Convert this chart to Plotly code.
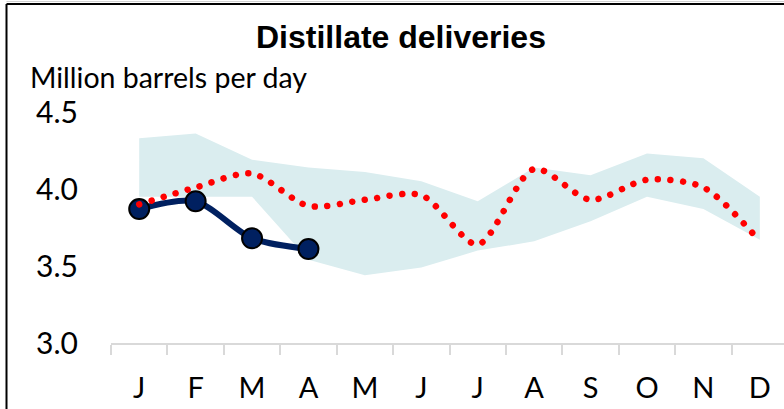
import plotly.graph_objects as go

# ---- data ----
months = ["J", "F", "M", "A", "M", "J", "J", "A", "S", "O", "N", "D"]
range_low = [3.95, 3.95, 3.95, 3.54, 3.44, 3.49, 3.60, 3.66, 3.79, 3.95, 3.87, 3.67]
range_high = [4.33, 4.36, 4.19, 4.14, 4.11, 4.05, 3.92, 4.14, 4.09, 4.23, 4.20, 3.95]
average = [3.90, 4.01, 4.10, 3.89, 3.93, 3.96, 3.64, 4.13, 3.93, 4.06, 4.01, 3.66]
current = [3.87, 3.92, 3.68, 3.61]
y_ticks = [3.0, 3.5, 4.0, 4.5]
y_ticklabels = ["3.0", "3.5", "4.0", "4.5"]

# ---- layout geometry (screen pixels; page body margin is removed) ----
W, H = 784, 409
L, T = 111, 112
PLOT_BOTTOM, PLOT_RIGHT = 343, 784
R = W - PLOT_RIGHT
B = H - PLOT_BOTTOM
PW, PH = PLOT_RIGHT - L, PLOT_BOTTOM - T


def px_x(px):
    return (px - L) / PW


def px_y(py):
    return (PLOT_BOTTOM - py) / PH


x = list(range(len(months)))
FONT = "Lato"

fig = go.Figure()
fig.add_trace(go.Scatter(x=x, y=range_low, mode="lines", line=dict(width=0),
                         hoverinfo="skip", showlegend=False))
fig.add_trace(go.Scatter(x=x, y=range_high, mode="lines", line=dict(width=0),
                         fill="tonexty", fillcolor="#DAEDEF",
                         hoverinfo="skip", showlegend=False))
fig.add_trace(go.Scatter(x=x[:len(current)], y=current, mode="lines+markers",
                         line=dict(color="#002060", width=6, shape="spline", smoothing=0.8),
                         marker=dict(size=20, color="#002060", line=dict(color="black", width=2)),
                         showlegend=False))
fig.add_trace(go.Scatter(x=x, y=average, mode="lines",
                         line=dict(color="#FF0000", width=6.5, dash="4px,8.6px",
                                   shape="spline", smoothing=0.8),
                         showlegend=False))

fig.update_layout(
    width=W, height=H,
    margin=dict(l=L, r=R, t=T, b=B, pad=0, autoexpand=False),
    paper_bgcolor="white", plot_bgcolor="white",
    showlegend=False,
    xaxis=dict(range=[-0.5, -0.5 + PW / 56.42], tickmode="array", tickvals=x, ticktext=months,
               showgrid=False, zeroline=False, showline=True, linecolor="#D9D9D9", linewidth=2,
               ticks="", ticklabelstandoff=18, automargin=False,
               minor=dict(ticks="outside", tick0=-0.5, dtick=1, ticklen=10,
                          tickcolor="#D9D9D9", tickwidth=2),
               tickfont=dict(family=FONT, size=29, color="black")),
    yaxis=dict(range=[3.0, 4.5], tickmode="array", tickvals=y_ticks, ticktext=y_ticklabels,
               showgrid=False, zeroline=False, showline=False, ticks="",
               ticklabelstandoff=32, automargin=False,
               tickfont=dict(family=FONT, size=30, color="black")),
    annotations=[
        dict(text="<b>Distillate deliveries</b>", xref="paper", yref="paper",
             x=px_x(400.5), y=px_y(37), xanchor="center", yanchor="middle", showarrow=False,
             font=dict(family="Liberation Sans", size=32, color="black")),
        dict(text="Million barrels per day", xref="paper", yref="paper",
             x=px_x(28), y=px_y(77), xanchor="left", yanchor="middle", showarrow=False,
             font=dict(family=FONT, size=28.5, color="black")),
    ],
    shapes=[
        dict(type="line", xref="paper", yref="paper", x0=px_x(6.5), x1=px_x(6.5),
             y0=px_y(4), y1=px_y(H + 20), line=dict(color="black", width=2)),
        dict(type="line", xref="paper", yref="paper", x0=px_x(6.5), x1=px_x(W + 20),
             y0=px_y(4), y1=px_y(4), line=dict(color="black", width=2)),
        dict(type="line", xref="paper", yref="paper", x0=px_x(6.5), x1=px_x(W + 20),
             y0=px_y(1.5), y1=px_y(1.5), line=dict(color="#D0D0D0", width=1)),
    ],
)

post = """
document.body.style.margin = '0';
document.querySelectorAll('.scatterlayer path.js-line').forEach(function (p) {
  var da = p.style.strokeDasharray;
  if (da && da !== 'none' && da !== '') {
    p.style.strokeLinecap = 'round';
    p.style.strokeDasharray = '0.01px, 12.6px';
  }
});
"""

fig.write_html("out.html", post_script=post, config={"displayModeBar": False})
